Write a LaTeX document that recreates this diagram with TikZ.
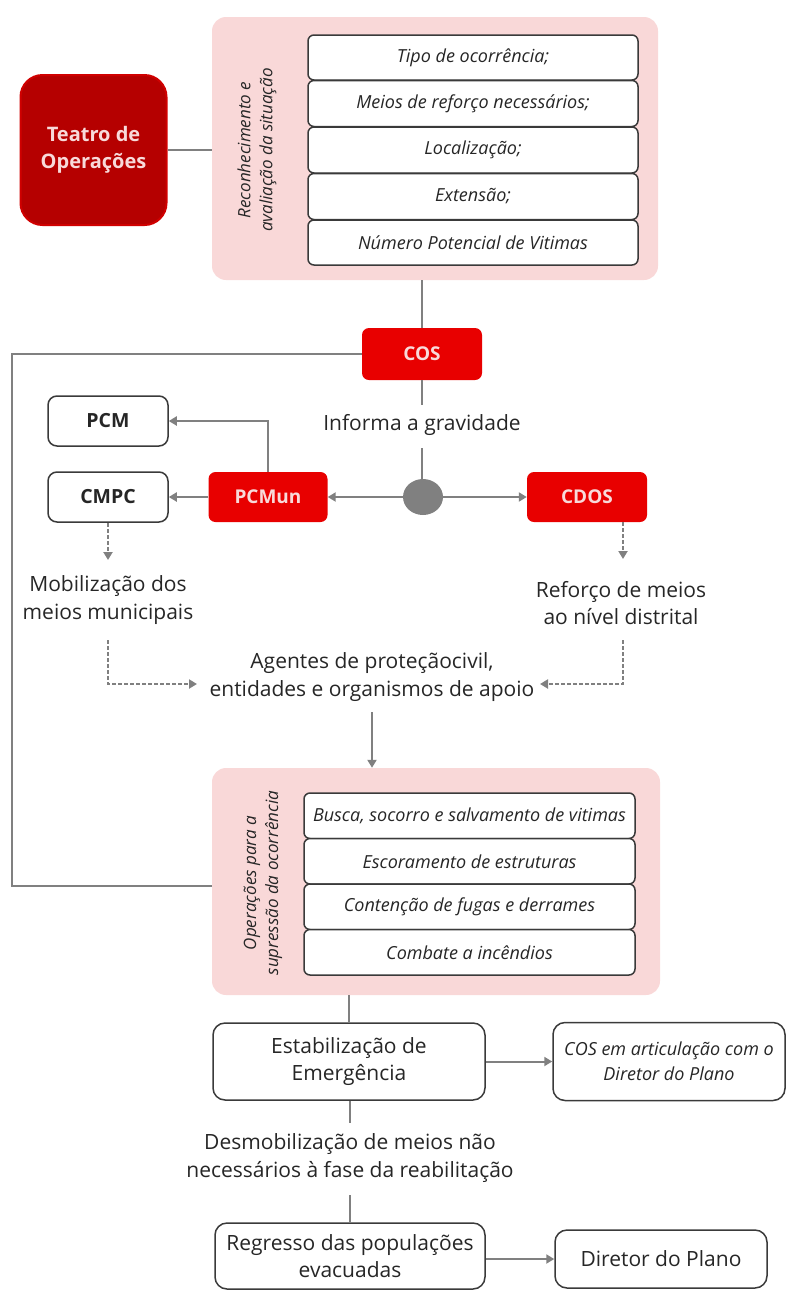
\documentclass[tikz,border=0pt]{standalone}
\usepackage{fontspec}
\setmainfont{Open Sans}
\usetikzlibrary{arrows.meta,shapes.geometric}
\definecolor{conn}{HTML}{808080}
\definecolor{pinkbg}{HTML}{F9D8D8}
\definecolor{redbox}{HTML}{E80000}
\definecolor{darkred}{HTML}{B50000}
\definecolor{darkredb}{HTML}{D00000}
\definecolor{boxline}{HTML}{3A3A3A}
\definecolor{txt}{HTML}{262626}
\definecolor{lightpink}{HTML}{F8DADA}
\tikzset{
  conline/.style={draw=conn,line width=2pt},
  conarrow/.style={conline,-{Triangle[length=8pt,width=9pt]}},
  dasharrow/.style={conarrow,dash pattern=on 4pt off 2pt},
  panel/.style={fill=pinkbg,draw=none,rounded corners=14pt,inner sep=0pt},
  rowbox/.style={draw=boxline,line width=1.5pt,fill=white,rounded corners=6pt,inner sep=0pt,
    font=\fontsize{18}{21}\selectfont\itshape,text=txt},
  redbtn/.style={fill=redbox,draw=none,rounded corners=7pt,inner sep=0pt,
    font=\fontsize{19}{22}\selectfont\bfseries,text=lightpink},
  whitebtn/.style={draw=boxline,line width=1.5pt,fill=white,rounded corners=9pt,inner sep=0pt,
    font=\fontsize{19.5}{22}\selectfont\bfseries,text=txt},
  plainbox/.style={draw=boxline,line width=1.5pt,fill=white,rounded corners=12pt,inner sep=0pt,
    align=center,font=\fontsize{21}{27}\selectfont,text=txt},
  label/.style={align=center,font=\fontsize{21}{27.5}\selectfont,text=txt,inner sep=1pt},
  rotlabel/.style={align=center,rotate=90,font=\fontsize{17}{22}\selectfont\itshape,text=txt,inner sep=0pt},
}
\begin{document}
\begin{tikzpicture}[x=1pt,y=-1pt]
\useasboundingbox (0,0) rectangle (788,1291);

% top section
\node[fill=darkred,draw=darkredb,line width=2pt,rounded corners=22pt,minimum width=146pt,minimum height=150pt,
  align=center,font=\fontsize{20}{27}\selectfont\bfseries,text=lightpink] (teatro) at (93.5,150) {Teatro de\\Operações};
\node[panel,minimum width=446pt,minimum height=263pt] (panelA) at (435,148.5) {};
\node[rotlabel] (rotA) at (257,150) {Reconhecimento e\\avaliação da situação};
\node[rowbox,minimum width=330pt,minimum height=45pt] (a1) at (473,57.5) {Tipo de ocorrência;};
\node[rowbox,minimum width=330pt,minimum height=46pt] (a2) at (473,103.5) {Meios de reforço necessários;};
\node[rowbox,minimum width=330pt,minimum height=46pt] (a3) at (473,150) {Localização;};
\node[rowbox,minimum width=330pt,minimum height=46pt] (a4) at (473,196.5) {Extensão;};
\node[rowbox,minimum width=330pt,minimum height=45pt] (a5) at (473,242.5) {Número Potencial de Vitimas};

\draw[conline] (teatro.east) -- (panelA.west |- teatro.east);

% COS
\node[redbtn,minimum width=120pt,minimum height=52pt] (cos) at (422,354) {COS};
\draw[conline] (panelA.south -| cos.north) -- (cos.north);
\node[label] (informa) at (422,425) {Informa a gravidade};
\node[ellipse,fill=conn,minimum width=40pt,minimum height=36pt,inner sep=0pt] (dot) at (423,497) {};
\coordinate (infTop) at (422,405);
\coordinate (infBot) at (422,448);
\draw[conline] (cos.south) -- (infTop);
\draw[conline] (infBot) -- (infBot |- dot.north);

\node[whitebtn,minimum width=120pt,minimum height=50pt] (pcm) at (108,421) {PCM};
\node[whitebtn,minimum width=120pt,minimum height=50pt] (cmpc) at (108,497) {CMPC};
\node[redbtn,minimum width=119pt,minimum height=50pt] (pcmun) at (268,497) {PCMun};
\node[redbtn,minimum width=120pt,minimum height=50pt] (cdos) at (587,497) {CDOS};

\draw[conarrow] (dot.west) -- (pcmun.east);
\draw[conarrow] (dot.east) -- (cdos.west);
\draw[conarrow] (pcmun.west) -- (cmpc.east);
\draw[conarrow] (pcmun.north) |- (pcm.east);

\node[label] (mob) at (108,600) {Mobilização dos\\meios municipais};
\node[label] (ref) at (621,603) {Reforço de meios\\ao nível distrital};
\coordinate (mobArr) at (108,560);
\coordinate (refArr) at (623,559);
\draw[dasharrow] (cmpc.south) -- (mobArr);
\draw[dasharrow] (cdos.south -| refArr) -- (refArr);

\node[label] (agentes) at (372,677) {Agentes de proteçãocivil,\\entidades e organismos de apoio};
\coordinate (mobLow) at (108,640);
\coordinate (refLow) at (623,640);
\coordinate (agL) at (197,684);
\coordinate (agR) at (540,684);
\draw[dasharrow] (mobLow) |- (agL);
\draw[dasharrow] (refLow) |- (agR);

% operations panel
\node[panel,minimum width=448pt,minimum height=227pt] (panelB) at (436,881.5) {};
\node[rotlabel] (rotB) at (263,883) {Operações para a\\supressão da ocorrência};
\node[rowbox,minimum width=331pt,minimum height=45.5pt] (b1) at (469.5,815.75) {Busca, socorro e salvamento de vitimas};
\node[rowbox,minimum width=331pt,minimum height=45.5pt] (b2) at (469.5,861.25) {Escoramento de estruturas};
\node[rowbox,minimum width=331pt,minimum height=45.5pt] (b3) at (469.5,906.75) {Contenção de fugas e derrames};
\node[rowbox,minimum width=331pt,minimum height=45.5pt] (b4) at (469.5,952.25) {Combate a incêndios};

\coordinate (agBot) at (372,712);
\draw[conarrow] (agBot) -- (agBot |- panelB.north);

% left loop
\coordinate (loopTop) at (12,354);
\coordinate (loopBot) at (12,886);
\draw[conline] (cos.west) -- (loopTop) -- (loopBot) -- (loopBot -| panelB.west);

% bottom
\node[plainbox,minimum width=272pt,minimum height=77pt] (estab) at (349,1061.5) {Estabilização de\\Emergência};
\node[plainbox,minimum width=232pt,minimum height=78pt,font=\fontsize{18}{25}\selectfont\itshape] (cosart) at (669,1061.5) {COS em articulação com o\\Diretor do Plano};
\draw[conline] (panelB.south -| estab.north) -- (estab.north);
\draw[conarrow] (estab.east) -- (cosart.west);

\node[label] (desmob) at (350,1158) {Desmobilização de meios não\\necessários à fase da reabilitação};
\coordinate (dTop) at (350,1123);
\coordinate (dBot) at (350,1195);
\draw[conline] (estab.south -| dTop) -- (dTop);

\node[plainbox,minimum width=270pt,minimum height=66pt] (regresso) at (350,1256) {Regresso das populações\\evacuadas};
\node[plainbox,minimum width=212pt,minimum height=58pt] (diretor) at (661,1259) {Diretor do Plano};
\draw[conline] (dBot) -- (regresso.north);
\draw[conarrow] (regresso.east |- diretor.west) -- (diretor.west);
\end{tikzpicture}
\end{document}
